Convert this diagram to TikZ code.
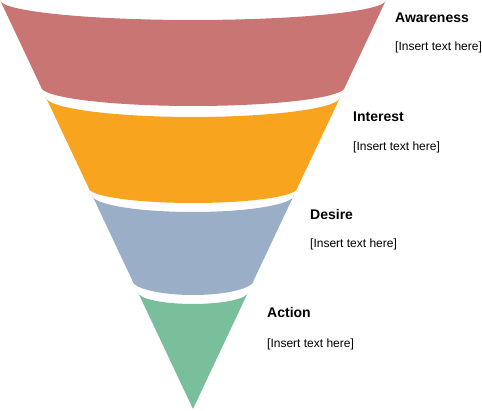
\documentclass[tikz,border=0pt]{standalone}
\usepackage{fontspec}
\setmainfont{Liberation Sans}
\definecolor{bandred}{HTML}{C97573}
\definecolor{bandorange}{HTML}{F9A41E}
\definecolor{bandblue}{HTML}{9AAEC8}
\definecolor{bandgreen}{HTML}{7ABF9B}
\begin{document}
\begin{tikzpicture}[x=1pt,y=1pt,
        stagetitle/.style={anchor=west,inner sep=0pt,font=\fontsize{14}{16}\selectfont\bfseries},
        stagetext/.style={anchor=west,inner sep=0pt,font=\fontsize{12}{14}\selectfont}]
            \useasboundingbox (0,0) rectangle (482,411);
            % funnel bands, top rim and bottom rim are half ellipses
            \fill[bandred] (0,411) arc[start angle=180,end angle=360,x radius=193,y radius=20] -- (345,324) arc[start angle=0,end angle=-180,x radius=152,y radius=19] -- cycle;
            \fill[bandorange] (45.7,314) arc[start angle=180,end angle=360,x radius=147.3,y radius=20] -- (297.3,223) arc[start angle=0,end angle=-180,x radius=104.3,y radius=15] -- cycle;
            \fill[bandblue] (92,216) arc[start angle=180,end angle=360,x radius=101,y radius=17] -- (253.9,131) arc[start angle=0,end angle=-180,x radius=60.9,y radius=15] -- cycle;
            \fill[bandgreen] (137.8,119) arc[start angle=180,end angle=360,x radius=55.2,y radius=12] -- (193,2) -- cycle;
            % labels
            \node[stagetitle] (awareness) at (395,393) {Awareness};
            \node[stagetext] (awarenesstext) at (395,364) {[Insert text here]};
            \node[stagetitle] (interest) at (353,294) {Interest};
            \node[stagetext] (interesttext) at (353,264) {[Insert text here]};
            \node[stagetitle] (desire) at (310,196) {Desire};
            \node[stagetext] (desiretext) at (310,167) {[Insert text here]};
            \node[stagetitle] (action) at (267,98) {Action};
            \node[stagetext] (actiontext) at (267,67) {[Insert text here]};
        \end{tikzpicture}
\end{document}
